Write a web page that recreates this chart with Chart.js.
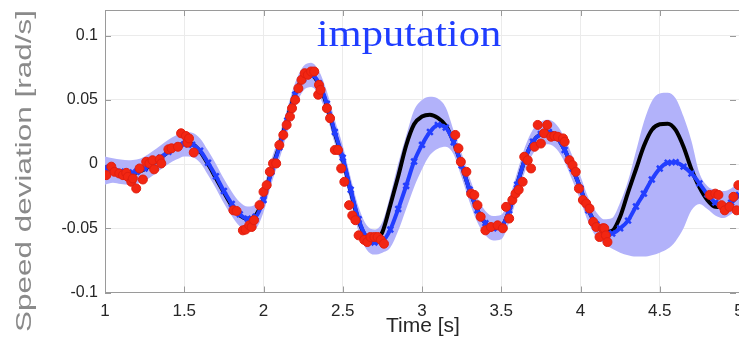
<!DOCTYPE html>
<html>
<head>
<meta charset="utf-8">
<script src="https://cdn.jsdelivr.net/npm/chart.js@4.4.0/dist/chart.umd.min.js"></script>
<style>
  html, body { margin: 0; padding: 0; background: #fff; }
  canvas { display: block; }
</style>
</head>
<body>
<canvas id="speedChart" width="739" height="341"></canvas>
<script>
// time axis (s)
const TIME = [1.00, 1.05, 1.10, 1.15, 1.20, 1.25, 1.30, 1.35, 1.40, 1.45,
  1.50, 1.55, 1.60, 1.65, 1.70, 1.75, 1.80, 1.85, 1.90, 1.95,
  2.00, 2.05, 2.10, 2.15, 2.20, 2.25, 2.30, 2.35, 2.40, 2.45,
  2.50, 2.55, 2.60, 2.65, 2.70, 2.75, 2.80, 2.85, 2.90, 2.95,
  3.00, 3.05, 3.10, 3.15, 3.20, 3.25, 3.30, 3.35, 3.40, 3.45,
  3.50, 3.55, 3.60, 3.65, 3.70, 3.75, 3.80, 3.85, 3.90, 3.95,
  4.00, 4.05, 4.10, 4.15, 4.20, 4.25, 4.30, 4.35, 4.40, 4.45,
  4.50, 4.55, 4.60, 4.65, 4.70, 4.75, 4.80, 4.85, 4.90, 4.95, 5.00];

// true signal (black)
const TRUE_SIG = [-0.002, -0.005, -0.006, -0.007, -0.0065, -0.004, 0.000, 0.0048, 0.0095, 0.0135,
  0.016, 0.0155, 0.0098, 0.000, -0.011, -0.022, -0.0325, -0.040, -0.0425, -0.040,
  -0.027, -0.005, 0.014, 0.0355, 0.055, 0.067, 0.0695, 0.062, 0.046, 0.024,
  0.004, -0.021, -0.044, -0.057, -0.060, -0.053, -0.032, -0.0095, 0.0145, 0.031,
  0.037, 0.0385, 0.036, 0.030, 0.017, -0.001, -0.020, -0.036, -0.046, -0.050,
  -0.049, -0.036, -0.016, 0.004, 0.0175, 0.0235, 0.025, 0.021, 0.011, -0.0035,
  -0.019, -0.036, -0.047, -0.053, -0.052, -0.041, -0.022, -0.004, 0.014, 0.0266,
  0.031, 0.0315, 0.0266, 0.0135, -0.004, -0.018, -0.028, -0.0333, -0.0335, -0.030, -0.024];

// imputed mean (blue markers)
const IMPUTED = [-0.003, -0.005, -0.006, -0.0065, -0.006, -0.0035, 0.0005, 0.005, 0.0095, 0.013,
  0.0155, 0.015, 0.0105, 0.001, -0.0095, -0.021, -0.031, -0.039, -0.0425, -0.041,
  -0.028, -0.006, 0.013, 0.034, 0.054, 0.0665, 0.0695, 0.063, 0.047, 0.025,
  0.005, -0.020, -0.043, -0.057, -0.061, -0.060, -0.051, -0.035, -0.017, 0.002,
  0.015, 0.025, 0.0305, 0.0285, 0.017, -0.001, -0.020, -0.036, -0.046, -0.050,
  -0.049, -0.036, -0.016, 0.004, 0.0175, 0.0235, 0.025, 0.021, 0.011, -0.0035,
  -0.019, -0.036, -0.047, -0.053, -0.054, -0.050, -0.044, -0.033, -0.023, -0.012,
  -0.0035, 0.001, 0.0015, -0.002, -0.0073, -0.015, -0.0235, -0.030, -0.033, -0.030, -0.024];

// confidence band
const BAND_HI = [0.006, 0.0045, 0.0035, 0.003, 0.0035, 0.006, 0.010, 0.0145, 0.019, 0.0225,
  0.025, 0.0245, 0.020, 0.0105, 0.000, -0.0115, -0.0215, -0.0295, -0.033, -0.0315,
  -0.0185, 0.0035, 0.0225, 0.0435, 0.0635, 0.076, 0.079, 0.0725, 0.0565, 0.0345,
  0.0145, -0.0105, -0.0335, -0.0475, -0.051, -0.045, -0.024, 0.0005, 0.022, 0.042,
  0.050, 0.0525, 0.051, 0.044, 0.026, 0.0085, -0.0105, -0.0265, -0.0365, -0.0405,
  -0.0395, -0.0265, -0.0065, 0.0135, 0.027, 0.033, 0.0345, 0.0305, 0.0205, 0.006,
  -0.0095, -0.0265, -0.0375, -0.043, -0.042, -0.030, -0.013, 0.010, 0.033, 0.049,
  0.055, 0.0555, 0.0513, 0.037, 0.018, -0.007, -0.017, -0.020, -0.021, -0.019, -0.013];
const BAND_LO = [-0.016, -0.0145, -0.0155, -0.016, -0.0155, -0.013, -0.009, -0.0045, 0.000, 0.0035,
  0.006, 0.0055, 0.001, -0.0085, -0.019, -0.0305, -0.0405, -0.0485, -0.052, -0.0505,
  -0.0375, -0.0155, 0.0035, 0.0245, 0.0445, 0.057, 0.060, 0.0535, 0.0375, 0.0155,
  -0.0045, -0.0295, -0.0525, -0.0665, -0.0705, -0.069, -0.065, -0.052, -0.035, -0.018,
  -0.004, 0.007, 0.012, 0.0135, 0.0075, -0.0105, -0.0295, -0.0455, -0.0555, -0.0595,
  -0.0585, -0.0455, -0.0255, -0.0055, 0.008, 0.014, 0.0155, 0.0115, 0.0015, -0.013,
  -0.0285, -0.0455, -0.057, -0.062, -0.066, -0.069, -0.071, -0.072, -0.072, -0.071,
  -0.069, -0.066, -0.060, -0.050, -0.036, -0.031, -0.035, -0.040, -0.042, -0.039, -0.034];

// measured samples (red dots)
const MEAS_T = [1.008, 1.04, 1.06, 1.09, 1.113, 1.134, 1.144, 1.166, 1.176, 1.197,
  1.218, 1.239, 1.26, 1.28, 1.30, 1.31, 1.345, 1.355, 1.40, 1.42,
  1.46, 1.48, 1.51, 1.52, 1.53, 1.56, 1.81, 1.83, 1.87, 1.887,
  1.91, 1.925, 1.94, 1.975, 2.00, 2.02, 2.04, 2.06, 2.08, 2.10,
  2.125, 2.146, 2.167, 2.18, 2.20, 2.22, 2.24, 2.26, 2.28, 2.30,
  2.32, 2.345, 2.35, 2.36, 2.40, 2.42, 2.45, 2.47, 2.49, 2.51,
  2.54, 2.56, 2.58, 2.60, 2.635, 2.655, 2.675, 2.70, 2.72, 2.74,
  2.76, 3.21, 3.23, 3.245, 3.28, 3.31, 3.33, 3.35, 3.37, 3.40,
  3.435, 3.477, 3.51, 3.53, 3.55, 3.57, 3.59, 3.61, 3.635, 3.645,
  3.667, 3.688, 3.71, 3.73, 3.75, 3.77, 3.79, 3.815, 3.835, 3.857,
  3.89, 3.90, 3.93, 3.95, 3.97, 3.99, 4.015, 4.036, 4.057, 4.08,
  4.10, 4.12, 4.14, 4.15, 4.16, 4.17, 4.815, 4.85, 4.87, 4.89,
  4.91, 4.94, 4.965, 4.985, 4.996];
const MEAS_V = [-0.0086, -0.002, -0.006, -0.0073, -0.0086, -0.0068, -0.0099, -0.0138, -0.0112, -0.019,
  -0.0034, -0.012, 0.0018, 0.0005, 0.003, -0.0041, 0.0037, 0.0005, 0.0115, 0.0123,
  0.0135, 0.024, 0.0219, 0.0166, 0.020, 0.009, -0.036, -0.0365, -0.0516, -0.051,
  -0.0477, -0.049, -0.0437, -0.032, -0.0216, -0.0164, -0.006, 0.0005, 0.0005, 0.0148,
  0.0227, 0.0305, 0.037, 0.0435, 0.050, 0.059, 0.0656, 0.0708, 0.0695, 0.0721,
  0.0721, 0.054, 0.0617, 0.0578, 0.0435, 0.0357, 0.011, 0.011, -0.0034, -0.0138,
  -0.032, -0.040, -0.0437, -0.0555, -0.059, -0.0607, -0.0568, -0.0568, -0.0568, -0.059,
  -0.062, 0.0227, 0.0123, 0.0018, -0.006, -0.023, -0.024, -0.032, -0.041, -0.0516,
  -0.049, -0.0477, -0.050, -0.0333, -0.0424, -0.028, -0.023, -0.020, -0.0138, 0.0057,
  0.003, -0.0034, 0.0135, 0.0305, 0.016, 0.024, 0.0305, 0.0213, 0.0219, 0.0213,
  0.020, 0.0174, 0.003, -0.0008, -0.006, -0.019, -0.028, -0.0307, -0.0346, -0.045,
  -0.049, -0.0568, -0.050, -0.050, -0.0555, -0.0607, -0.024, -0.023, -0.024, -0.032,
  -0.036, -0.0333, -0.0255, -0.036, -0.0164];

const Y_TICK_STEP = 0.05;
const X_TICK_STEP = 0.5;

const pts = (xs, ys) => xs.map((t, i) => ({ x: t, y: ys[i] }));
const fmt = v => String(Math.round(v * 100) / 100);

// frame, inward ticks and the free-standing texts
const decor = {
    id: 'decor',
    beforeDatasetsDraw(chart) {
        const { ctx, chartArea: a, scales: { x, y } } = chart;
        ctx.save();
        ctx.strokeStyle = '#9a9a9a';
        ctx.lineWidth = 1;
        ctx.beginPath();
        ctx.moveTo(a.left, a.top + 0.5);
        ctx.lineTo(a.right, a.top + 0.5);
        x.ticks.forEach(t => {
            const px = Math.round(x.getPixelForValue(t.value)) + 0.5;
            ctx.moveTo(px, a.bottom); ctx.lineTo(px, a.bottom - 6);
            ctx.moveTo(px, a.top); ctx.lineTo(px, a.top + 6);
        });
        y.ticks.forEach(t => {
            const py = Math.round(y.getPixelForValue(t.value)) + 0.5;
            ctx.moveTo(a.left, py); ctx.lineTo(a.left + 6, py);
            ctx.moveTo(a.right - 3, py); ctx.lineTo(a.right - 9, py);
        });
        ctx.stroke();
        ctx.restore();
    },
    afterDraw(chart) {
        const { ctx } = chart;
        ctx.save();
        // y axis title (stretched along its length like the source)
        ctx.translate(31, 171);
        ctx.rotate(-Math.PI / 2);
        ctx.scale(1.43, 1);
        ctx.font = '22px "Liberation Sans", Arial, sans-serif';
        ctx.fillStyle = '#8a8a8a';
        ctx.textAlign = 'center';
        ctx.textBaseline = 'alphabetic';
        ctx.fillText('Speed deviation [rad/s]', 0, 0);
        ctx.restore();

        ctx.save();
        ctx.font = '21px "Liberation Sans", Arial, sans-serif';
        ctx.fillStyle = '#262626';
        ctx.textAlign = 'center';
        ctx.textBaseline = 'alphabetic';
        ctx.fillText('Time [s]', 423, 332);
        ctx.restore();

        ctx.save();
        ctx.translate(409, 46);
        ctx.scale(1.12, 1);
        ctx.font = '38px "Liberation Serif", "Times New Roman", serif';
        ctx.fillStyle = '#1f3dff';
        ctx.textAlign = 'center';
        ctx.textBaseline = 'alphabetic';
        ctx.fillText('imputation', 0, 0);
        ctx.restore();
    }
};

new Chart(document.getElementById('speedChart'), {
    type: 'line',
    data: {
        datasets: [{
            label: 'Measured',
            data: pts(MEAS_T, MEAS_V),
            showLine: false,
            pointRadius: 4.5,
            pointBackgroundColor: 'rgb(242,38,18)',
            pointBorderColor: 'rgb(225,30,15)',
            pointBorderWidth: 1,
            order: 0
        }, {
            label: 'Imputed',
            data: pts(TIME, IMPUTED),
            borderColor: 'rgb(35,62,255)',
            borderWidth: 4,
            cubicInterpolationMode: 'monotone',
            pointStyle: 'crossRot',
            pointRadius: 4,
            pointBorderWidth: 2.5,
            pointBorderColor: 'rgb(35,62,255)',
            order: 1
        }, {
            label: 'True',
            data: pts(TIME, TRUE_SIG),
            borderColor: '#000',
            borderWidth: 4,
            cubicInterpolationMode: 'monotone',
            pointRadius: 0,
            order: 2
        }, {
            label: 'Upper',
            data: pts(TIME, BAND_HI),
            borderWidth: 0,
            borderColor: 'rgba(0,0,0,0)',
            backgroundColor: 'rgb(178,178,250)',
            cubicInterpolationMode: 'monotone',
            pointRadius: 0,
            fill: '+1',
            order: 3
        }, {
            label: 'Lower',
            data: pts(TIME, BAND_LO),
            borderWidth: 0,
            borderColor: 'rgba(0,0,0,0)',
            cubicInterpolationMode: 'monotone',
            pointRadius: 0,
            fill: false,
            order: 4
        }]
    },
    options: {
        responsive: false,
        animation: false,
        layout: { padding: { top: 10, left: 0, right: 0, bottom: 0 }, autoPadding: false },
        plugins: { legend: { display: false }, tooltip: { enabled: false } },
        scales: {
            x: {
                type: 'linear',
                min: 1,
                max: 5,
                afterFit: s => { s.height = 48.5; s.paddingLeft = 0; s.paddingRight = 0; },
                ticks: {
                    stepSize: X_TICK_STEP,
                    padding: 9,
                    maxRotation: 0,
                    color: '#262626',
                    font: { family: '"Liberation Sans", Arial, sans-serif', size: 17 },
                    callback: fmt
                },
                grid: { color: '#ebebeb', drawTicks: false },
                border: { color: '#9a9a9a' }
            },
            y: {
                min: -0.1,
                max: 0.12,
                afterFit: s => { s.width = 105; s.paddingTop = 0; s.paddingBottom = 0; },
                ticks: {
                    stepSize: Y_TICK_STEP,
                    includeBounds: false,
                    padding: 7,
                    color: '#262626',
                    font: { family: '"Liberation Sans", Arial, sans-serif', size: 16 },
                    callback: fmt
                },
                grid: { color: '#ebebeb', drawTicks: false },
                border: { color: '#9a9a9a' }
            }
        }
    },
    plugins: [decor]
});
</script>
</body>
</html>
